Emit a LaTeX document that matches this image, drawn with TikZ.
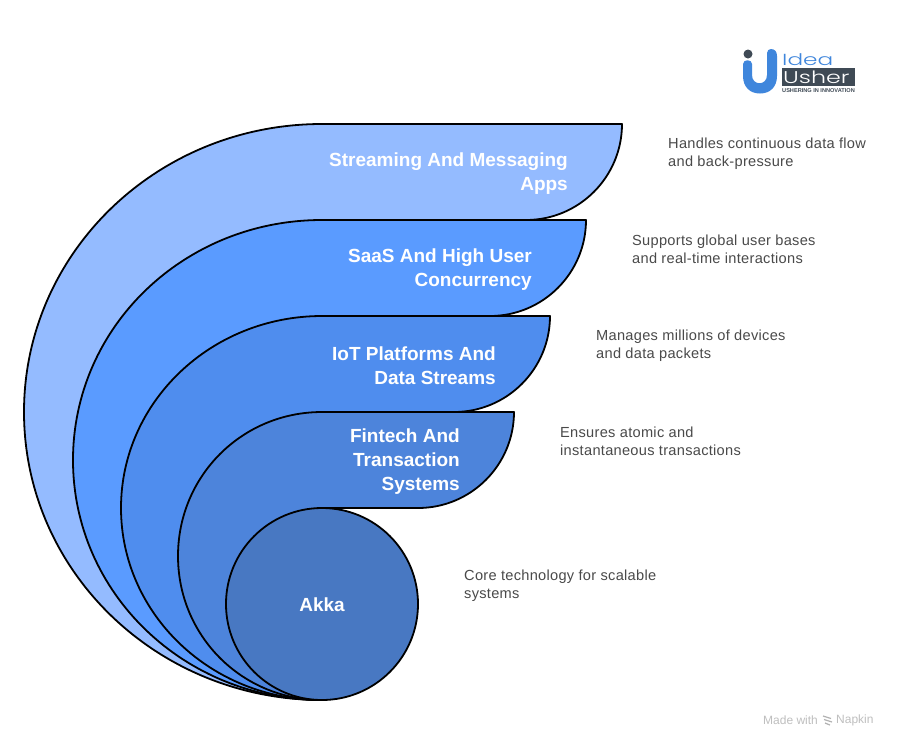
\documentclass[tikz,border=0pt]{standalone}
\usepackage{fontspec}
\usepackage{graphicx}
\setmainfont{Liberation Sans}
\newfontfamily\headfont{Liberation Sans}
\newfontfamily\descfont[LetterSpace=2.0]{Liberation Sans}
\newfontfamily\logofont{Poppins Light}
\definecolor{cA}{HTML}{94BBFF}
\definecolor{cB}{HTML}{5A9BFF}
\definecolor{cC}{HTML}{4F8DEE}
\definecolor{cD}{HTML}{4D84DB}
\definecolor{cE}{HTML}{4878C2}
\definecolor{bodytxt}{HTML}{4A4A4A}
\definecolor{logodark}{HTML}{3F4A55}
\definecolor{logoblue}{HTML}{3F86DC}
\tikzset{
  tier/.style={draw=black,line width=1.8pt,line join=round},
  head/.style={text=white,font=\headfont\fontsize{19}{24}\selectfont\bfseries,align=right,anchor=east,inner sep=0pt},
  desc/.style={text=bodytxt,font=\descfont\fontsize{14.6}{18}\selectfont,align=left,anchor=west,inner sep=0pt},
  mark text/.style={inner sep=0pt,anchor=west,text=black!25,font=\fontsize{12}{12}\selectfont},
}
\begin{document}
\begin{tikzpicture}[x=1pt,y=-1pt]
\useasboundingbox (0,0) rectangle (897,748);
\fill[white] (0,0) rectangle (897,748);
% tiers, outermost first
\path[tier,fill=cA] (622,124) -- (322,124)
  .. controls (157,124) and (24,253) .. (24,412)
  .. controls (24,571) and (157,700) .. (322,700)
  -- (322,220) -- (526,220)
  .. controls (579,220) and (622,177) .. (622,124) -- cycle;
\path[tier,fill=cB] (586,220) -- (322,220)
  .. controls (184,220) and (73,327) .. (73,460)
  .. controls (73,593) and (184,700) .. (322,700)
  -- (322,316) -- (490,316)
  .. controls (543,316) and (586,273) .. (586,220) -- cycle;
\path[tier,fill=cC] (550,316) -- (322,316)
  .. controls (211,316) and (121,402) .. (121,508)
  .. controls (121,614) and (211,700) .. (322,700)
  -- (322,412) -- (454,412)
  .. controls (507,412) and (550,369) .. (550,316) -- cycle;
\path[tier,fill=cD] (514,412) -- (322,412)
  .. controls (242,412) and (178,476) .. (178,556)
  .. controls (178,636) and (242,700) .. (322,700)
  -- (322,508) -- (418,508)
  .. controls (471,508) and (514,465) .. (514,412) -- cycle;
\node[circle,draw=black,line width=1.8pt,fill=cE,minimum size=192pt,inner sep=0pt] (core) at (322,604) {};
% labels
\node[head] (t1) at (568,173.5) {Streaming And Messaging\\Apps};
\node[head] (t2) at (532,269.5) {SaaS And High User\\Concurrency};
\node[head] (t3) at (496,365.5) {IoT Platforms And\\Data Streams};
\node[head] (t4) at (460,461.5) {Fintech And\\Transaction\\Systems};
\node[head,anchor=center] (t5) at (322,604.5) {Akka};
\node[desc] (d1) at (668,153.5) {Handles continuous data flow\\and back-pressure};
\node[desc] (d2) at (632,249.5) {Supports global user bases\\and real-time interactions};
\node[desc] (d3) at (596,345.5) {Manages millions of devices\\and data packets};
\node[desc] (d4) at (560,441.5) {Ensures atomic and\\instantaneous transactions};
\node[desc] (d5) at (464,585.5) {Core technology for scalable\\systems};
% logo
\fill[logoblue] (767,53) .. controls (767,50.5) and (769,49) .. (771,49) .. controls (775,49) and (777,52) .. (777,56)
  -- (777,76) .. controls (777,87) and (770,93.5) .. (760,93.5) .. controls (750,93.5) and (743,87) .. (743,76)
  -- (743,64) .. controls (743,59) and (752,59) .. (752,64) -- (752,75) .. controls (752,86) and (767,86) .. (767,75) -- cycle;
\fill[logodark] (748,54) circle (4.5pt);
\fill[logodark] (782,68) rectangle (855,86);
\node[inner sep=0pt,anchor=west,text=logoblue,font=\logofont\fontsize{16}{16}\selectfont] (lg1) at (782,60) {\scalebox{1.45}[1]{Idea}};
\node[inner sep=0pt,anchor=west,text=white,font=\logofont\fontsize{17}{16}\selectfont] (lg2) at (783,77.5) {\scalebox{1.4}[1]{Usher}};
\node[inner sep=0pt,anchor=west,text=logodark,font=\bfseries\fontsize{5.6}{6}\selectfont] (lg3) at (782,91) {USHERING IN INNOVATION};
% watermark
\node[mark text] (m1) at (763,720) {Made with};
\draw[black!30,line width=1.2pt] (823,716) -- (831,718.5) (824,719.5) -- (832,722) (825,723) -- (830,725);
\node[mark text] (m2) at (836,720) {Napkin};
\end{tikzpicture}
\end{document}
